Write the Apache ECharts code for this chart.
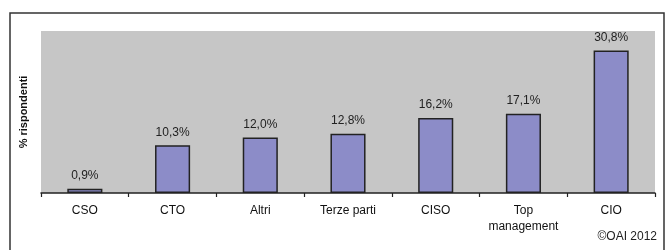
<!DOCTYPE html>
<html lang="it">

<head>
	<meta charset="UTF-8">
	<title>Rispondenti</title>
	<script src="https://cdn.jsdelivr.net/npm/echarts@6/dist/echarts.min.js"></script>
	<style>
		* {
			margin: 0;
			padding: 0;
		}

		body,
		html {
			background: #fff;
		}

		#main {
			width: 665px;
			height: 250px;
		}
	</style>
</head>

<body>
	<div id="main"></div>
	<script>
		const categories = ['CSO', 'CTO', 'Altri', 'Terze parti', 'CISO', 'Top\nmanagement', 'CIO'];
		const values = [0.9, 10.3, 12.0, 12.8, 16.2, 17.1, 30.8];
		const yMax = 35;

		const myChart = echarts.init(document.getElementById('main'));

		const option = {
			animation: false,
			textStyle: {
				fontFamily: 'Liberation Sans, Arial, sans-serif'
			},
			grid: {
				left: 41,
				right: 10,
				top: 31,
				bottom: 57,
				show: true,
				backgroundColor: '#c6c6c6',
				borderWidth: 0
			},
			xAxis: {
				type: 'category',
				data: categories,
				axisLine: {
					lineStyle: { color: '#222', width: 1.5 }
				},
				axisTick: {
					show: true,
					interval: 0,
					length: 4,
					lineStyle: { color: '#222', width: 1.2 }
				},
				axisLabel: {
					interval: 0,
					color: '#111',
					fontSize: 12,
					margin: 10,
					lineHeight: 16
				}
			},
			yAxis: {
				type: 'value',
				min: 0,
				max: yMax,
				name: '% rispondenti',
				nameLocation: 'middle',
				nameGap: 12,
				nameTextStyle: {
					color: '#111',
					fontSize: 11,
					fontWeight: 'bold'
				},
				axisLine: { show: false },
				axisTick: { show: false },
				axisLabel: { show: false },
				splitLine: { show: false }
			},
			series: [{
				type: 'bar',
				data: values,
				barWidth: '40%',
				itemStyle: {
					color: '#8c8cc8',
					borderColor: '#222',
					borderWidth: 1.5
				},
				label: {
					show: true,
					position: 'top',
					distance: 7,
					color: '#222',
					fontSize: 12,
					formatter: p => p.value.toFixed(1).replace('.', ',') + '%'
				}
			}],
			graphic: [
				{
					type: 'rect',
					shape: { x: 10, y: 13, width: 654, height: 260 },
					style: { fill: 'none', stroke: '#333', lineWidth: 1.5 },
					silent: true
				},
				{
					type: 'text',
					right: 8,
					top: 231,
					style: {
						text: '©OAI 2012',
						fill: '#222',
						font: '12px Liberation Sans, Arial, sans-serif'
					}
				}
			]
		};

		myChart.setOption(option);
	</script>
</body>

</html>
